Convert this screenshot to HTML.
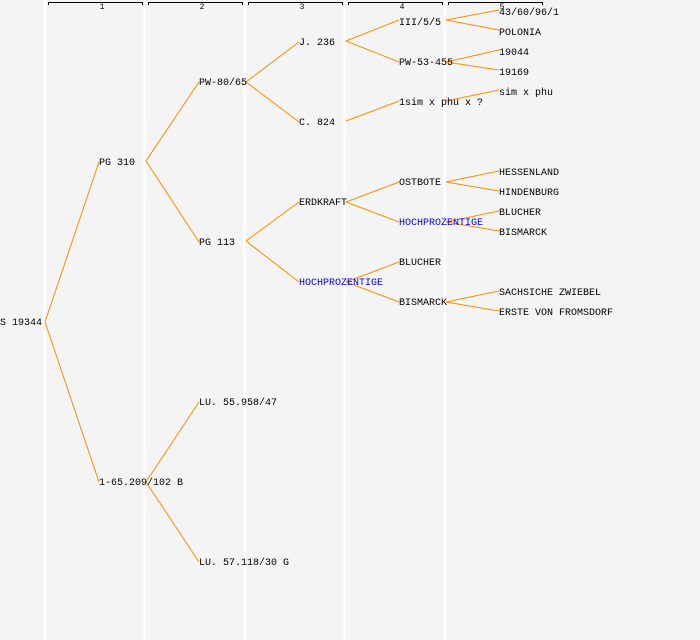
<!DOCTYPE html>
<html><head><style>html,body{margin:0;padding:0;background:#f4f4f4}svg{display:block}text{font-family:"Liberation Mono",monospace;font-size:10px;fill:#000}</style></head><body>
<svg width="700" height="640" xmlns="http://www.w3.org/2000/svg">
<rect width="700" height="640" fill="#f4f4f4"/>
<g stroke="#fff" stroke-width="2">
<line x1="44.5" y1="0" x2="44.5" y2="640"/><line x1="144.5" y1="0" x2="144.5" y2="640"/><line x1="244.5" y1="0" x2="244.5" y2="640"/><line x1="344.5" y1="0" x2="344.5" y2="640"/><line x1="444.5" y1="0" x2="444.5" y2="640"/>
</g>
<g stroke="#000" fill="none" stroke-width="1">
<path d="M48.5 5V2.5H142.5V5"/><path d="M148.5 5V2.5H242.5V5"/><path d="M248.5 5V2.5H342.5V5"/><path d="M348.5 5V2.5H442.5V5"/><path d="M448.5 5V2.5H542.5V5"/>
</g>
<g text-anchor="middle"><text x="102" y="9" style="font-size:8px">1</text><text x="202" y="9" style="font-size:8px">2</text><text x="302" y="9" style="font-size:8px">3</text><text x="402" y="9" style="font-size:8px">4</text><text x="502" y="9" style="font-size:8px">5</text></g>
<g stroke="#ff8c00" stroke-width="1" fill="none">
<path d="M45 322L99 162M45 322L99 482"/>
<path d="M146 161L199 82M146 161L199 242M146 482L199 402M146 482L199 562"/>
<path d="M246 82L299 42M246 82L299 122M246 241L299 202M246 241L299 282"/>
<path d="M346 41L399 20M346 41L399 62M346 121L399 101M346 202L399 182M346 202L399 222M346 282L399 262M346 282L399 302"/>
<path d="M446 20L499 10M446 20L499 30M446 62L499 50M446 62L499 70M446 101L499 90M446 182L499 171M446 182L499 191M446 222L499 211M446 222L499 231M446 302L499 291M446 302L499 311"/>
</g>
<text x="0" y="325">S 19344</text>
<text x="99" y="165">PG 310</text>
<text x="99" y="485">1-65.209/102 B</text>
<text x="199" y="85">PW-80/65</text>
<text x="199" y="245">PG 113</text>
<text x="199" y="405">LU. 55.958/47</text>
<text x="199" y="565">LU. 57.118/30 G</text>
<text x="299" y="45">J. 236</text>
<text x="299" y="125">C. 824</text>
<text x="299" y="205">ERDKRAFT</text>
<text x="299" y="285" style="fill:#0000ff">HOCHPROZENTIGE</text>
<text x="399" y="25">III/5/5</text>
<text x="399" y="65">PW-53-455</text>
<text x="399" y="105">1sim x phu x ?</text>
<text x="399" y="185">OSTBOTE</text>
<text x="399" y="225" style="fill:#0000ff">HOCHPROZENTIGE</text>
<text x="399" y="265">BLUCHER</text>
<text x="399" y="305">BISMARCK</text>
<text x="499" y="15">43/60/96/1</text>
<text x="499" y="35">POLONIA</text>
<text x="499" y="55">19044</text>
<text x="499" y="75">19169</text>
<text x="499" y="95">sim x phu</text>
<text x="499" y="175">HESSENLAND</text>
<text x="499" y="195">HINDENBURG</text>
<text x="499" y="215">BLUCHER</text>
<text x="499" y="235">BISMARCK</text>
<text x="499" y="295">SACHSICHE ZWIEBEL</text>
<text x="499" y="315">ERSTE VON FROMSDORF</text>
</svg>
</body></html>
